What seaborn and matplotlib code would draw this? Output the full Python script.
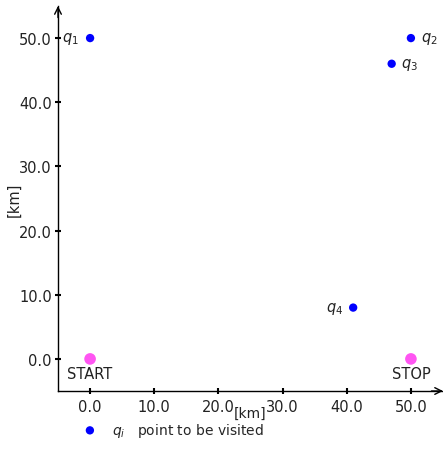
import matplotlib
matplotlib.use("Agg")
import matplotlib.pyplot as plt
import seaborn as sns
import pandas as pd

sns.set_theme(style="white")
plt.rcParams['font.family'] = ['DejaVu Sans']
plt.rcParams['mathtext.fontset'] = 'dejavusans'

visit_names = ["$q_1$", "$q_2$", "$q_3$", "$q_4$"]
visit_x = [0.0, 50.0, 47.0, 41.0]
visit_y = [50.0, 50.0, 46.0, 8.0]
end_names = ["START", "STOP"]
end_x = [0.0, 50.0]
end_y = [0.0, 0.0]
ticks = [0.0, 10.0, 20.0, 30.0, 40.0, 50.0]
tick_labels = ["0.0", "10.0", "20.0", "30.0", "40.0", "50.0"]

visits = pd.DataFrame({"x": visit_x, "y": visit_y, "name": visit_names})
ends = pd.DataFrame({"x": end_x, "y": end_y, "name": end_names})

fig = plt.figure(figsize=(4.43, 4.64), dpi=100)
ax = fig.add_axes([58/443, 1-392/464, 385/443, 385/464])

sns.scatterplot(data=visits, x="x", y="y", color="#0000ff", s=36,
                edgecolor="none", ax=ax, label=r"$q_i$   point to be visited", zorder=3)
sns.scatterplot(data=ends, x="x", y="y", color="#ff55f2", s=70,
                edgecolor="none", ax=ax, zorder=3, legend=False)

ax.set_xlim(-5, 55)
ax.set_ylim(-5, 55)
ax.set_xticks(ticks)
ax.set_xticklabels(tick_labels)
ax.set_yticks(ticks)
ax.set_yticklabels(tick_labels)
ax.tick_params(axis="both", direction="inout", length=5, width=1.5, color="black",
               labelsize=10.5, colors="#222222", pad=2, bottom=True, left=True)
ax.tick_params(axis="x", pad=3)
for s in ["top", "right"]:
    ax.spines[s].set_visible(False)
for s in ["left", "bottom"]:
    ax.spines[s].set_color("black")
    ax.spines[s].set_linewidth(1.0)
ax.grid(False)

# axis arrows
ax.annotate("", xy=(1.0, 0.0), xytext=(0.97, 0.0), xycoords="axes fraction",
            arrowprops=dict(arrowstyle="->", color="black", lw=1.0, shrinkA=0, shrinkB=0))
ax.annotate("", xy=(0.0, 1.0), xytext=(0.0, 0.97), xycoords="axes fraction",
            arrowprops=dict(arrowstyle="->", color="black", lw=1.0, shrinkA=0, shrinkB=0))

ax.set_xlabel("[km]", fontsize=10, labelpad=-5.5, color="#222222")
ax.set_ylabel("[km]", fontsize=10.5, labelpad=-2, color="#222222")

offsets = {"$q_1$": (-8, 0, "right"), "$q_2$": (7, 0, "left"),
           "$q_3$": (7, 0, "left"), "$q_4$": (-7, 0, "right")}
for _, r in visits.iterrows():
    dx, dy, ha = offsets[r["name"]]
    ax.annotate(r["name"], (r["x"], r["y"]), xytext=(dx, dy), textcoords="offset points",
                ha=ha, va="center", fontsize=10.5, color="#222222")
for _, r in ends.iterrows():
    ax.annotate(r["name"], (r["x"], r["y"]), xytext=(0, -5), textcoords="offset points",
                ha="center", va="top", fontsize=10.5, color="#222222")

leg = ax.legend(loc="center left", bbox_to_anchor=(76/443, 1-431/464),
                bbox_transform=fig.transFigure, frameon=False, fontsize=10,
                handletextpad=0.6, markerscale=1.0, borderpad=0.0, borderaxespad=0)

fig.savefig("out.png", dpi=100)
